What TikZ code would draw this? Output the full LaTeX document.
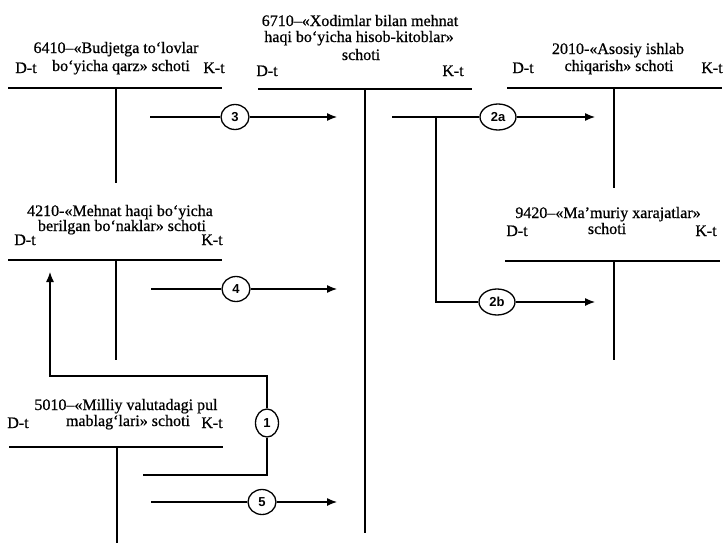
\documentclass[tikz,border=0pt]{standalone}
\usepackage{fontspec}
\setmainfont{Liberation Serif}[FakeBold=0.7]
\newfontfamily\lblfont{Liberation Sans}
\usetikzlibrary{arrows.meta,shapes.geometric}
\begin{document}
\begin{tikzpicture}[x=1pt,y=-1pt,
  txt/.style={anchor=base,inner sep=0pt,font=\fontsize{16}{18}\selectfont},
  tline/.style={line width=1.6pt},
  conn/.style={line width=1.2pt},
  arr/.style={conn,-{Latex[length=10pt,width=8pt]}},
  num/.style={draw,ellipse,line width=1.3pt,inner sep=0pt,minimum width=28pt,minimum height=25pt,font=\lblfont\bfseries\fontsize{13}{13}\selectfont},
  numw/.style={num,minimum width=36pt,minimum height=26pt},
  numt/.style={num,minimum width=23pt,minimum height=28pt}]
\useasboundingbox (0,0) rectangle (726,544);

% ---- T-accounts ----
% 6410
\coordinate (a1L) at (8,88); \coordinate (a1R) at (222,88);
\coordinate (a1T) at (116,88); \coordinate (a1B) at (116,183);
\draw[tline] (a1L) -- (a1R); \draw[tline] (a1T) -- (a1B);
\node[txt] (t1a) at (116,53) {6410–«Budjetga to‘lovlar};
\node[txt] (t1b) at (121,71) {bo‘yicha qarz» schoti};
\node[txt] (t1d) at (26,73) {D-t};
\node[txt] (t1k) at (214,73) {K-t};

% 6710
\coordinate (a2L) at (258,89); \coordinate (a2R) at (472,89);
\coordinate (a2T) at (365,89); \coordinate (a2B) at (365,533);
\draw[tline] (a2L) -- (a2R); \draw[tline] (a2T) -- (a2B);
\node[txt] (t2a) at (360,26) {6710–«Xodimlar bilan mehnat};
\node[txt] (t2b) at (359,42) {haqi bo‘yicha hisob-kitoblar»};
\node[txt] (t2c) at (361,60) {schoti};
\node[txt] (t2d) at (267,76) {D-t};
\node[txt] (t2k) at (453,76) {K-t};

% 2010
\coordinate (a3L) at (507,88); \coordinate (a3R) at (722,88);
\coordinate (a3T) at (614,88); \coordinate (a3B) at (614,188);
\draw[tline] (a3L) -- (a3R); \draw[tline] (a3T) -- (a3B);
\node[txt] (t3a) at (618,54) {2010-«Asosiy ishlab};
\node[txt] (t3b) at (619,71) {chiqarish» schoti};
\node[txt] (t3d) at (523,73) {D-t};
\node[txt] (t3k) at (712,73) {K-t};

% 4210
\coordinate (a4L) at (8,260); \coordinate (a4R) at (222,260);
\coordinate (a4T) at (116,260); \coordinate (a4B) at (116,360);
\draw[tline] (a4L) -- (a4R); \draw[tline] (a4T) -- (a4B);
\node[txt] (t4a) at (120,216) {4210-«Mehnat haqi bo‘yicha};
\node[txt] (t4b) at (122,231) {berilgan bo‘naklar» schoti};
\node[txt] (t4d) at (25,245) {D-t};
\node[txt] (t4k) at (212,245) {K-t};

% 9420
\coordinate (a5L) at (505,261); \coordinate (a5R) at (720,261);
\coordinate (a5T) at (614,261); \coordinate (a5B) at (614,360);
\draw[tline] (a5L) -- (a5R); \draw[tline] (a5T) -- (a5B);
\node[txt] (t5a) at (608,218) {9420–«Ma’muriy xarajatlar»};
\node[txt] (t5b) at (607,234) {schoti};
\node[txt] (t5d) at (517,236) {D-t};
\node[txt] (t5k) at (706,236) {K-t};

% 5010
\coordinate (a6L) at (9,447); \coordinate (a6R) at (223,447);
\coordinate (a6T) at (117,447); \coordinate (a6B) at (117,543);
\draw[tline] (a6L) -- (a6R); \draw[tline] (a6T) -- (a6B);
\node[txt] (t6a) at (126,410) {5010–«Milliy valutadagi pul};
\node[txt] (t6b) at (128,426) {mablag‘lari» schoti};
\node[txt] (t6d) at (18,428) {D-t};
\node[txt] (t6k) at (212,428) {K-t};

% ---- connectors ----
% 3
\coordinate (s3) at (150,117); \node[num] (c3) at (235,117) {3}; \coordinate (e3) at (337,117);
\draw[conn] (s3) -- (c3); \draw[arr] (c3) -- (e3);
% 2a / 2b
\coordinate (s2) at (392,117); \coordinate (b2) at (436,117);
\node[numw] (c2a) at (498,117) {2a}; \coordinate (e2a) at (595,117);
\coordinate (k2) at (436,302);
\node[numw] (c2b) at (497,302) {2b}; \coordinate (e2b) at (595,302);
\draw[conn] (s2) -- (c2a); \draw[arr] (c2a) -- (e2a);
\draw[conn] (b2) -- (k2) -- (c2b); \draw[arr] (c2b) -- (e2b);
% 4
\coordinate (s4) at (151,289); \node[num] (c4) at (236,289) {4}; \coordinate (e4) at (337,289);
\draw[conn] (s4) -- (c4); \draw[arr] (c4) -- (e4);
% 1
\coordinate (s1) at (143,475); \coordinate (k1c) at (267,475);
\node[numt] (c1) at (267,423) {1};
\coordinate (k1a) at (267,376); \coordinate (k1b) at (50,376); \coordinate (e1) at (50,272);
\draw[conn] (s1) -- (k1c) -- (c1);
\draw[arr] (c1) -- (k1a) -- (k1b) -- (e1);
% 5
\coordinate (s5) at (151,502); \node[num] (c5) at (262,502) {5}; \coordinate (e5) at (337,502);
\draw[conn] (s5) -- (c5); \draw[arr] (c5) -- (e5);
\end{tikzpicture}
\end{document}
